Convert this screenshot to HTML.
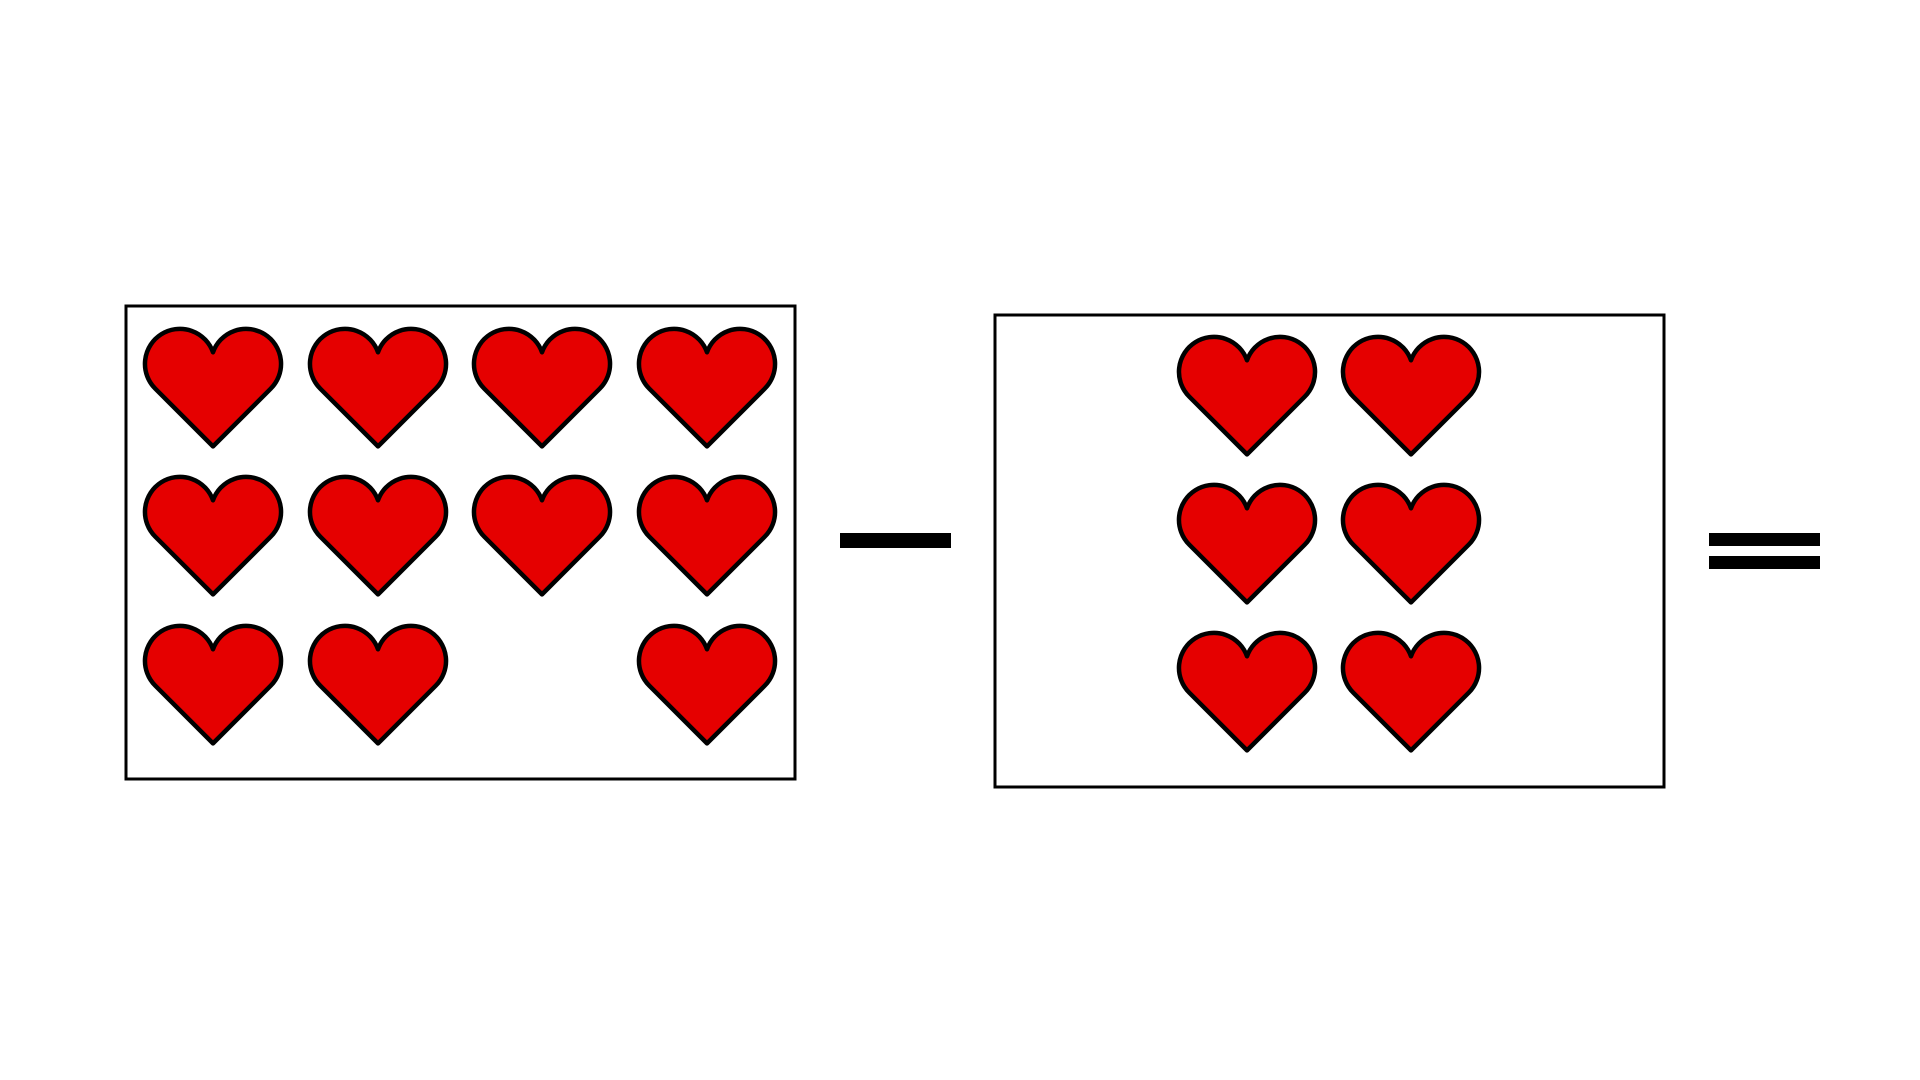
<!DOCTYPE html>
<html><head><meta charset="utf-8"><style>
html,body{margin:0;padding:0;background:#fff;width:1920px;height:1080px;overflow:hidden;font-family:"Liberation Sans",sans-serif}
</style></head><body>
<svg id="s" width="1920" height="1080" viewBox="0 0 1920 1080">
<defs><path id="heart" d="M70 25.3 A35 35 0 1 0 12.3 61.7 L70 119.4 L127.7 61.7 A35 35 0 1 0 70 25.3 Z"/></defs>
<rect x="126" y="306" width="669" height="473" fill="none" stroke="#000" stroke-width="3"/>
<rect x="995" y="315" width="669" height="472" fill="none" stroke="#000" stroke-width="3"/>
<rect x="840" y="533" width="111" height="15" fill="#000"/>
<rect x="1709" y="533" width="111" height="13" fill="#000"/>
<rect x="1709" y="556" width="111" height="13" fill="#000"/>
<g id="hearts"></g>
</svg>
<script>
const box1Cols=[213,378,542,707];
const box1Rows=[329,477,626];
const box1Cells=[[0,0],[0,1],[0,2],[0,3],[1,0],[1,1],[1,2],[1,3],[2,0],[2,1],[2,3]];
const box2Cols=[1247,1411];
const box2Rows=[337,485,633];
const box2Cells=[[0,0],[0,1],[1,0],[1,1],[2,0],[2,1]];
const g=document.getElementById('hearts');
function draw(cols,rows,cells,prefix){
  cells.forEach(function(c,i){
    const u=document.createElementNS('http://www.w3.org/2000/svg','use');
    u.setAttribute('href','#heart');
    u.setAttribute('transform','translate('+(cols[c[1]]-70)+','+(rows[c[0]]-2)+')');
    u.setAttribute('fill','#e50000');
    u.setAttribute('stroke','#000');
    u.setAttribute('stroke-width','4.5');
    u.setAttribute('stroke-linejoin','round');
    
    
    g.appendChild(u);
  });
}
draw(box1Cols,box1Rows,box1Cells,'minuend');
draw(box2Cols,box2Rows,box2Cells,'subtrahend');
</script>
</body></html>
